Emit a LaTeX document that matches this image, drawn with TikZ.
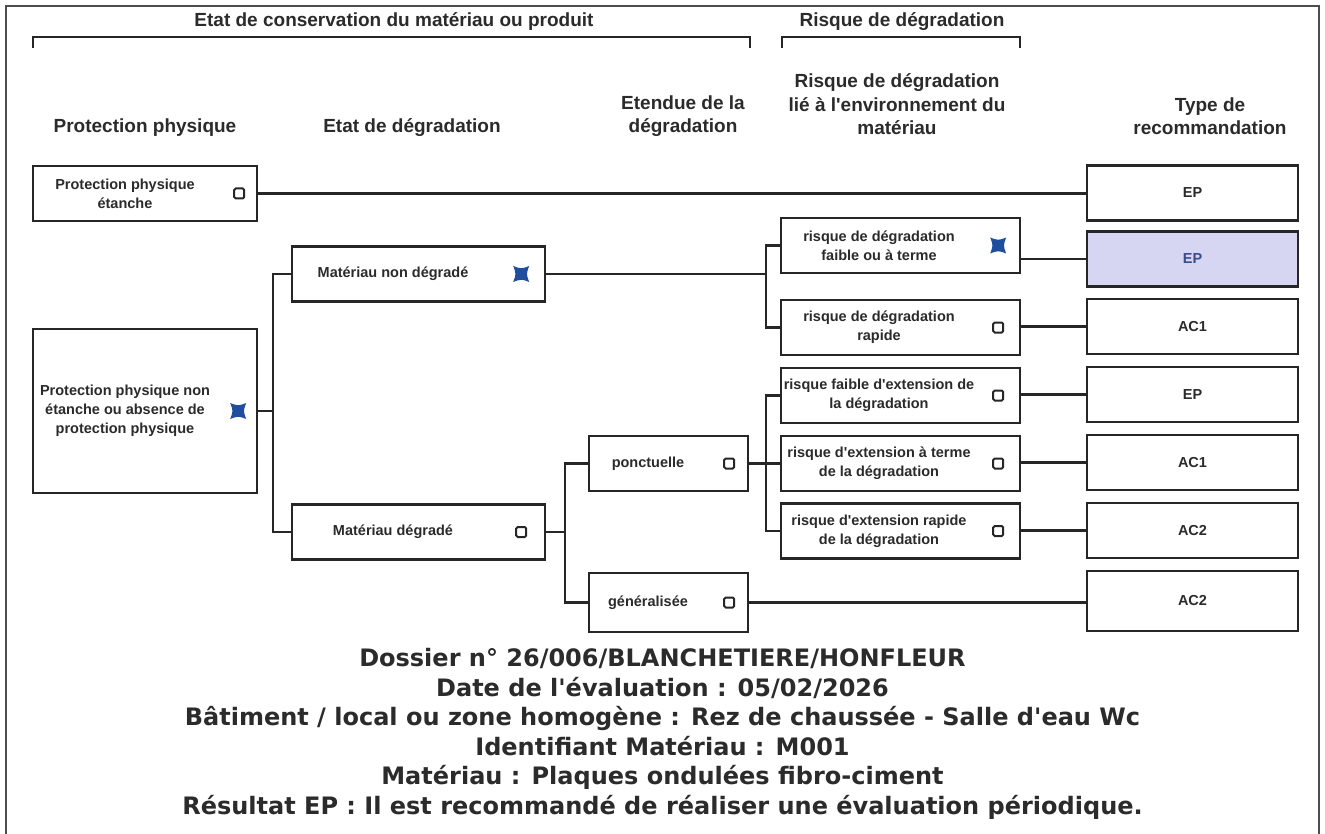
\documentclass[tikz,border=0pt]{standalone}
\usepackage{fontspec}
\setmainfont{Liberation Sans}[Ligatures=TeXOff]
\newfontfamily\verdana{DejaVu Sans}[Ligatures=TeXOff]
\usetikzlibrary{calc}
\definecolor{trait}{HTML}{262626}
\definecolor{cadre}{HTML}{4D4D4D}
\definecolor{lavande}{HTML}{D6D6F3}
\definecolor{cochebleu}{HTML}{1F4E9E}
\definecolor{texte}{HTML}{2B2B2B}
\definecolor{texteep}{HTML}{3A4A8A}
\tikzset{
	boite/.style={draw=trait, line width=2.4pt, fill=white, inner sep=0pt, minimum height=55pt},
	txt/.style={font=\fontsize{14.5}{19}\selectfont\bfseries, text=texte, align=center, inner sep=0pt},
	titre/.style={font=\fontsize{19}{23.5}\selectfont\bfseries, text=texte, align=center, inner sep=0pt},
	cb/.style={draw=trait, line width=2pt, minimum size=10pt, inner sep=0pt, rounded corners=1.5pt},
	lien/.style={draw=trait, line width=2.4pt},
	accolade/.style={draw=trait, line width=2.4pt},
	croix/.pic={\fill[cochebleu] (-8,-8) .. controls (0,-5) .. (8,-8) .. controls (5,0) .. (8,8) .. controls (0,5) .. (-8,8) .. controls (-5,0) .. (-8,-8) -- cycle;}
}

\begin{document}
\begin{tikzpicture}[x=1pt, y=-1pt]
	\fill[white] (0,0) rectangle (1325,834);
	\useasboundingbox (0,0) rectangle (1325,834);
	\draw[cadre, line width=2pt] (6,834) -- (6,6) -- (1319,6) -- (1319,834);

	% en-tetes
	\node[titre] (t-etat) at (394,22) {Etat de conservation du matériau ou produit};
	\node[titre] (t-risque) at (902,22) {Risque de dégradation};
	\draw[accolade] (33,48) -- (33,37) -- (750,37) -- (750,48);
	\draw[accolade] (782,48) -- (782,37) -- (1020,37) -- (1020,48);
	\node[titre] (t-prot) at (145,128) {Protection physique};
	\node[titre] (t-degr) at (412,128) {Etat de dégradation};
	\node[titre] (t-eten) at (683,116) {Etendue de la\\dégradation};
	\node[titre] (t-env) at (897,104.5) {Risque de dégradation\\lié à l'environnement du\\matériau};
	\node[titre] (t-type) at (1210,116) {Type de\\recommandation};

	% protection physique
	\node[boite, minimum width=224pt] (ppe) at (145,193.5) {};
	\node[txt] (ppe-t) at ([xshift=-20pt]ppe.center) {Protection physique\\étanche};
	\node[cb] (ppe-c) at ([xshift=-19pt]ppe.east) {};
	\node[boite, minimum width=224pt, minimum height=164pt] (ppne) at (145,411) {};
	\node[txt] (ppne-t) at ([xshift=-20pt]ppne.center) {Protection physique non\\étanche ou absence de\\protection physique};
	\pic (ppne-c) at ([xshift=-20pt]ppne.east) {croix};

	% etat de degradation
	\node[boite, minimum width=253pt] (mnd) at (418.5,274) {};
	\node[txt] (mnd-t) at ([xshift=-25.5pt]mnd.center) {Matériau non dégradé};
	\pic (mnd-c) at ([xshift=-25pt]mnd.east) {croix};
	\node[boite, minimum width=253pt] (md) at (418.5,532) {};
	\node[txt] (md-t) at ([xshift=-25.5pt]md.center) {Matériau dégradé};
	\node[cb] (md-c) at ([xshift=-25pt]md.east) {};

	% etendue
	\node[boite, minimum width=159pt] (pon) at (668.5,463.5) {};
	\node[txt] (pon-t) at ([xshift=-20.5pt]pon.center) {ponctuelle};
	\node[cb] (pon-c) at ([xshift=-20pt]pon.east) {};
	\node[boite, minimum width=159pt, minimum height=59pt] (gen) at (668.5,602.5) {};
	\node[txt] (gen-t) at ([xshift=-20.5pt]gen.center) {généralisée};
	\node[cb] (gen-c) at ([xshift=-20pt]gen.east) {};

	% risque lie a l'environnement
	\node[boite, minimum width=239pt] (r1) at (900.5,245.5) {};
	\node[txt] (r1-t) at ([xshift=-21.5pt]r1.center) {risque de dégradation\\faible ou à terme};
	\pic (r1-c) at ([xshift=-23pt]r1.east) {croix};
	\node[boite, minimum width=239pt] (r2) at (900.5,327.5) {};
	\node[txt] (r2-t) at ([xshift=-21.5pt]r2.center) {risque de dégradation\\rapide};
	\node[cb] (r2-c) at ([xshift=-23pt]r2.east) {};
	\node[boite, minimum width=239pt] (r3) at (900.5,395.5) {};
	\node[txt] (r3-t) at ([xshift=-21.5pt]r3.center) {risque faible d'extension de\\la dégradation};
	\node[cb] (r3-c) at ([xshift=-23pt]r3.east) {};
	\node[boite, minimum width=239pt] (r4) at (900.5,463.5) {};
	\node[txt] (r4-t) at ([xshift=-21.5pt]r4.center) {risque d'extension à terme\\de la dégradation};
	\node[cb] (r4-c) at ([xshift=-23pt]r4.east) {};
	\node[boite, minimum width=239pt] (r5) at (900.5,531) {};
	\node[txt] (r5-t) at ([xshift=-21.5pt]r5.center) {risque d'extension rapide\\de la dégradation};
	\node[cb] (r5-c) at ([xshift=-23pt]r5.east) {};

	% type de recommandation
	\node[boite, txt, minimum width=211pt] (rec1) at (1192.5,193) {EP};
	\node[boite, txt, minimum width=211pt, fill=lavande, text=texteep] (rec2) at (1192.5,259) {EP};
	\node[boite, txt, minimum width=211pt] (rec3) at (1192.5,326.5) {AC1};
	\node[boite, txt, minimum width=211pt] (rec4) at (1192.5,394.5) {EP};
	\node[boite, txt, minimum width=211pt] (rec5) at (1192.5,462.5) {AC1};
	\node[boite, txt, minimum width=211pt] (rec6) at (1192.5,530.5) {AC2};
	\node[boite, txt, minimum width=211pt, minimum height=60pt] (rec7) at (1192.5,601) {AC2};

	% liaisons
	\draw[lien] (ppe.east) -- (ppe.east -| rec1.west);
	\draw[lien] (mnd.west) -- ++(-18pt,0) coordinate (j1) |- (md.west);
	\draw[lien] (ppne.east) -- (ppne.east -| j1);
	\draw[lien] (r1.west) -- ++(-14pt,0) coordinate (j2) |- (r2.west);
	\draw[lien] (mnd.east) -- (mnd.east -| j2);
	\draw[lien] (pon.west) -- ++(-23pt,0) coordinate (j3) |- (gen.west);
	\draw[lien] (md.east) -- (md.east -| j3);
	\draw[lien] (r3.west) -- ++(-14pt,0) coordinate (j4) |- (r5.west);
	\draw[lien] (pon.east) -- (r4.west);
	\draw[lien] (rec2.west) -- (rec2.west -| r1.east);
	\draw[lien] (rec3.west) -- (rec3.west -| r2.east);
	\draw[lien] (rec4.west) -- (rec4.west -| r3.east);
	\draw[lien] (rec5.west) -- (rec5.west -| r4.east);
	\draw[lien] (rec6.west) -- (rec6.west -| r5.east);
	\draw[lien] (gen.east) -- (gen.east -| rec7.west);

	% resume
	\node[align=center, inner sep=0pt, text=texte, font=\verdana\bfseries\fontsize{24}{29.5}\selectfont] (resume) at (662.5,734) {Dossier n° 26/006/BLANCHETIERE/HONFLEUR\\Date de l'évaluation : 05/02/2026\\Bâtiment / local ou zone homogène : Rez de chaussée - Salle d'eau Wc\\Identifiant Matériau : M001\\Matériau : Plaques ondulées fibro-ciment\\Résultat EP : Il est recommandé de réaliser une évaluation périodique.};
\end{tikzpicture}
\end{document}
